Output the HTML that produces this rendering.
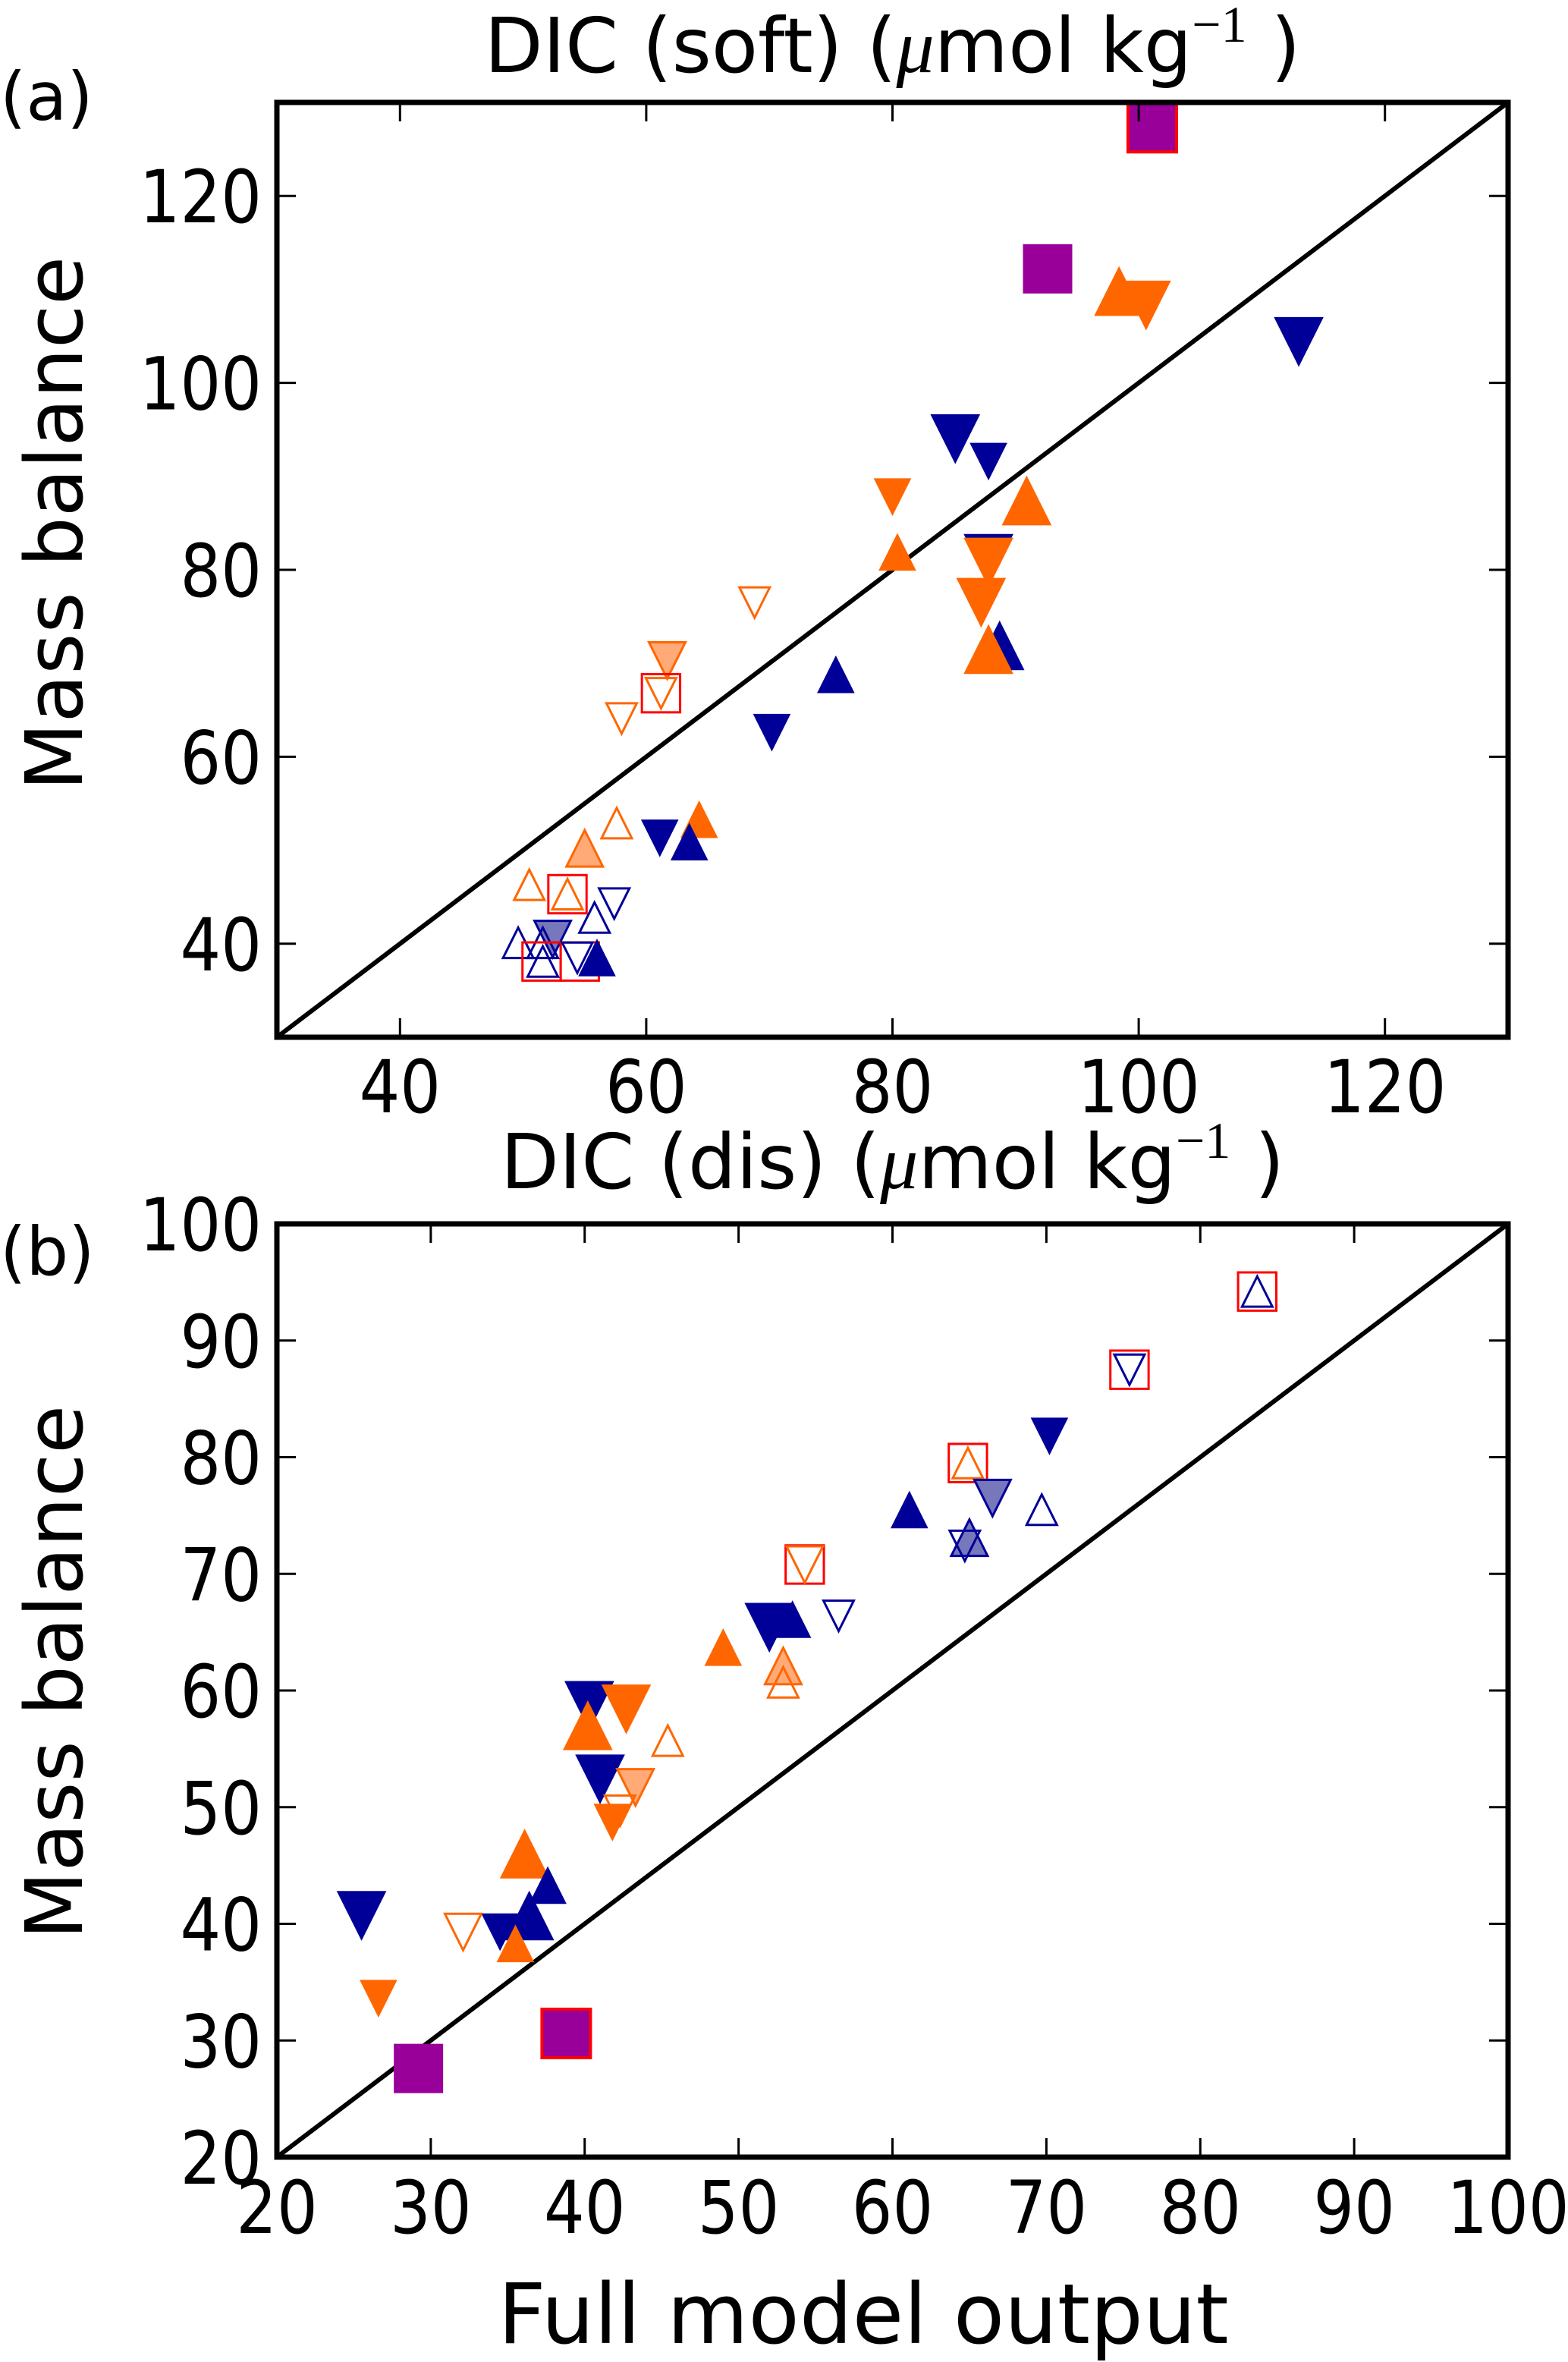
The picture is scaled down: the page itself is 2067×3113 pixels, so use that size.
<!DOCTYPE html>
<html><head><meta charset="utf-8"><style>
html,body{margin:0;padding:0;background:#fff;}
svg{display:block;font-family:"DejaVu Sans","Liberation Sans",sans-serif;}
</style></head><body>
<svg id="chart" width="2067" height="3113" viewBox="0 0 2067 3113" xmlns="http://www.w3.org/2000/svg">
<g id="panelA"></g>
<g id="panelB"></g>
</svg>
<script>
// Panel (a) data
const aTicksX = [40, 60, 80, 100, 120];
const aTicksY = [40, 60, 80, 100, 120];
const aX = [101.1, 92.6, 98.4, 100.6, 113, 85.1, 87.8, 80, 90.9, 80.4, 87.8, 87.8, 87.2, 88.7, 87.8, 75.4, 68.8, 61.7, 61.2, 61.2, 58, 70.2, 61.1, 64.3, 63.5, 57.6, 55, 50.5, 53.6, 53.6, 57.4, 55.8, 49.6, 52.4, 51.6, 51.5, 54.6, 56, 54.4, 51.6];
const aY = [127.3, 112.2, 109.8, 108.3, 104.4, 94, 91.6, 87.8, 87.4, 81.9, 81.2, 80.8, 76.5, 71.9, 71.5, 68.8, 76.5, 70.3, 66.8, 66.8, 64.1, 62.6, 51.3, 53.3, 50.9, 52.9, 50.2, 46.3, 45.3, 45.3, 44.3, 42.8, 40.1, 40.5, 40.1, 38.1, 38.1, 38.5, 38.5, 38.1];
const aKind = ['psr','ps','ou','od','nd','nd','nd','od','ou','ou','nd','od','od','nu','ou','nu','ood','lod','rs','ood','ood','nd','nd','ou','nu','oou','lou','oou','rs','oou','ond','onu','onu','lbd','onu','rs','rs','nu','ond','onu'];
const aSize = ['L','L','L','L','L','L','M','M','L','M','L','L','L','L','L','M','S','M','M','S','S','M','M','M','M','S','M','S','M','S','S','S','S','M','S','M','M','M','S','S'];
// Panel (b) data
const bTicksX = [20, 30, 40, 50, 60, 70, 80, 90, 100];
const bTicksY = [20, 30, 40, 50, 60, 70, 80, 90, 100];
const bX = [83.7, 83.7, 75.4, 75.4, 70.2, 64.9, 64.9, 66.5, 69.7, 61.1, 65, 64.7, 54.3, 54.3, 56.5, 53.5, 52, 49, 52.9, 52.9, 40.3, 40.2, 42.7, 45.4, 41, 43.3, 42.3, 41.8, 36.1, 37.6, 36.4, 34.5, 35.5, 32.1, 25.5, 26.6, 29.2, 38.8];
const bY = [94.2, 94.2, 87.5, 87.5, 81.8, 79.5, 79.5, 76.5, 75.5, 75.5, 73.1, 72.4, 70.8, 70.8, 66.4, 66.1, 65.4, 63.7, 62.1, 60.7, 58.7, 57, 58.4, 55.7, 52.4, 51.7, 49.7, 48.7, 46, 43.3, 40.7, 39.3, 38.3, 39.3, 40.7, 33.6, 27.6, 30.6];
const bKind = ['rs','onu','rs','ond','nd','rs','oou','lbd','onu','nu','lbu','ond','rs','ood','ond','nu','nd','ou','lou','oou','nd','ou','od','oou','nd','lod','ood','od','ou','nu','nu','nd','ou','ood','nd','od','ps','psr'];
const bSize = ['M','S','M','S','M','M','S','M','S','M','M','S','M','M','S','M','L','M','M','S','L','L','L','S','L','M','S','M','L','M','L','M','M','M','L','M','L','L'];

const NS = 'http://www.w3.org/2000/svg';
const NAVY = '#000099', ORANGE = '#ff6600', LORANGE = '#ffaa77', LBLUE = '#7777bb', PURPLE = '#990099', RED = '#ff0000';
const HALF = {L: 32, M: 24, S: 20};

function mk(parent, tag, attrs) {
  const e = document.createElementNS(NS, tag);
  for (const k in attrs) e.setAttribute(k, attrs[k]);
  parent.appendChild(e);
  return e;
}

function styleOf(kind) {
  switch (kind) {
    case 'nu': return {shape: 'up', fill: NAVY, stroke: NAVY, sw: 1};
    case 'nd': return {shape: 'down', fill: NAVY, stroke: NAVY, sw: 1};
    case 'ou': return {shape: 'up', fill: ORANGE, stroke: ORANGE, sw: 1};
    case 'od': return {shape: 'down', fill: ORANGE, stroke: ORANGE, sw: 1};
    case 'lou': return {shape: 'up', fill: LORANGE, stroke: ORANGE, sw: 3};
    case 'lod': return {shape: 'down', fill: LORANGE, stroke: ORANGE, sw: 3};
    case 'lbu': return {shape: 'up', fill: LBLUE, stroke: NAVY, sw: 3};
    case 'lbd': return {shape: 'down', fill: LBLUE, stroke: NAVY, sw: 3};
    case 'onu': return {shape: 'up', fill: 'none', stroke: NAVY, sw: 3};
    case 'ond': return {shape: 'down', fill: 'none', stroke: NAVY, sw: 3};
    case 'oou': return {shape: 'up', fill: 'none', stroke: ORANGE, sw: 3};
    case 'ood': return {shape: 'down', fill: 'none', stroke: ORANGE, sw: 3};
    case 'rs': return {shape: 'sq', fill: 'none', stroke: RED, sw: 3, k: 1.05};
    case 'ps': return {shape: 'sq', fill: PURPLE, stroke: PURPLE, sw: 1, k: 1.0};
    case 'psr': return {shape: 'sq', fill: PURPLE, stroke: RED, sw: 4, k: 1.0};
  }
}

function drawPanel(g, cfg) {
  const {L, R, T, B, xmin, xmax, ymin, ymax, ticksX, ticksY, xs, ys, kinds, sizes, title, tag, tagY, titleY, xlabY, xlab, ylabC} = cfg;
  const sx = v => L + (v - xmin) / (xmax - xmin) * (R - L);
  const sy = v => B - (v - ymin) / (ymax - ymin) * (B - T);
  const clip = mk(g, 'clipPath', {id: 'clip-' + tag});
  mk(clip, 'rect', {x: L, y: T, width: R - L, height: B - T});
  const lo = Math.max(xmin, ymin), hi = Math.min(xmax, ymax);
  const d = mk(g, 'line', {x1: sx(lo), y1: sy(lo), x2: sx(hi), y2: sy(hi), stroke: '#000', 'stroke-width': 6, 'clip-path': 'url(#clip-' + tag + ')'});
  
  
  const pg = mk(g, 'g', {'clip-path': 'url(#clip-' + tag + ')'});
  
  
  for (let i = 0; i < xs.length; i++) {
    const cx = sx(xs[i]), cy = sy(ys[i]);
    const st = styleOf(kinds[i]);
    const h = HALF[sizes[i]];
    let el;
    if (st.shape === 'sq') {
      const hs = h * st.k;
      el = mk(pg, 'rect', {x: cx - hs, y: cy - hs, width: 2 * hs, height: 2 * hs});
    } else if (st.shape === 'up') {
      el = mk(pg, 'polygon', {points: `${cx},${cy - h} ${cx - h},${cy + h} ${cx + h},${cy + h}`});
    } else {
      el = mk(pg, 'polygon', {points: `${cx},${cy + h} ${cx - h},${cy - h} ${cx + h},${cy - h}`});
    }
    el.setAttribute('fill', st.fill);
    el.setAttribute('stroke', st.stroke);
    el.setAttribute('stroke-width', st.sw);
    
    
  }
  ticksX.forEach(t => {
    const x = sx(t);
    mk(g, 'line', {x1: x, y1: B, x2: x, y2: B - 25, stroke: '#000', 'stroke-width': 3});
    mk(g, 'line', {x1: x, y1: T, x2: x, y2: T + 25, stroke: '#000', 'stroke-width': 3});
    const tx = mk(g, 'text', {x: 0, y: 0, 'font-size': 96, 'text-anchor': 'middle', fill: '#000', transform: `translate(${x},${xlabY}) scale(0.88,1)`});
    tx.textContent = t;
    
    
  });
  ticksY.forEach(t => {
    const y = sy(t);
    mk(g, 'line', {x1: L, y1: y, x2: L + 25, y2: y, stroke: '#000', 'stroke-width': 3});
    mk(g, 'line', {x1: R, y1: y, x2: R - 25, y2: y, stroke: '#000', 'stroke-width': 3});
    const ty = mk(g, 'text', {x: 0, y: 0, 'font-size': 96, 'text-anchor': 'end', fill: '#000', transform: `translate(${L - 20},${y + 35}) scale(0.88,1)`});
    ty.textContent = t;
    
    
  });
  const box = mk(g, 'rect', {x: L, y: T, width: R - L, height: B - T, fill: 'none', stroke: '#000', 'stroke-width': 7});
  
  
  const tt = mk(g, 'text', {x: (L + R) / 2, y: titleY, 'font-size': 100, 'text-anchor': 'middle', fill: '#000'});
  
  
  tt.innerHTML = title + ' (<tspan font-family="Liberation Serif, serif" font-style="italic">μ</tspan>mol kg<tspan font-size="68" dy="-40" font-family="Liberation Serif, serif">−1</tspan><tspan dy="40"> )</tspan>';
  const pl = mk(g, 'text', {x: 0, y: tagY, 'font-size': 88, fill: '#000'});
  pl.textContent = '(' + tag + ')';
  
  
  const yl = mk(g, 'text', {x: 0, y: 0, 'font-size': 104, 'text-anchor': 'middle', fill: '#000', transform: `translate(108,${ylabC}) rotate(-90)`});
  yl.textContent = 'Mass balance';
  
  
  if (xlab) {
    const xl = mk(g, 'text', {x: 1138, y: 3088, 'font-size': 110, 'text-anchor': 'middle', fill: '#000'});
    xl.textContent = xlab;
    
    
  }
}

drawPanel(document.getElementById('panelA'), {
  L: 365, R: 1988, T: 135, B: 1367, xmin: 30, xmax: 130, ymin: 30, ymax: 130,
  ticksX: aTicksX, ticksY: aTicksY, xs: aX, ys: aY, kinds: aKind, sizes: aSize,
  title: 'DIC (soft)', tag: 'a', tagY: 158, titleY: 95, xlabY: 1466, xlab: null, ylabC: 690
});
drawPanel(document.getElementById('panelB'), {
  L: 365, R: 1988, T: 1613, B: 2843, xmin: 20, xmax: 100, ymin: 20, ymax: 100,
  ticksX: bTicksX, ticksY: bTicksY, xs: bX, ys: bY, kinds: bKind, sizes: bSize,
  title: 'DIC (dis)', tag: 'b', tagY: 1680, titleY: 1566, xlabY: 2943, xlab: 'Full model output', ylabC: 2204
});
</script>
</body></html>
